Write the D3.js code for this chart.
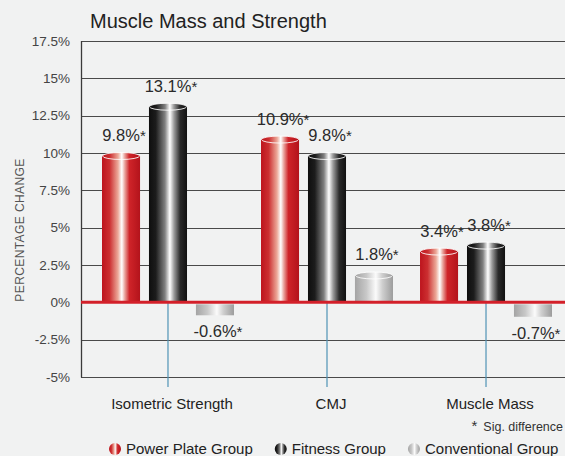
<!DOCTYPE html>
<html><head><meta charset="utf-8">
<script src="https://cdn.jsdelivr.net/npm/d3@7"></script>
<style>
body{margin:0;background:#f0f1f2;}
svg{display:block;font-family:"Liberation Sans",Arial,Helvetica,sans-serif;}
</style>
</head><body>
<svg id="c" width="565" height="456"></svg>
<script>
// ---- data ----
const categories = ["Isometric Strength", "CMJ", "Muscle Mass"];
const seriesNames = ["Power Plate Group", "Fitness Group", "Conventional Group"];
const powerPlate = [9.8, 10.9, 3.4];
const fitness = [13.1, 9.8, 3.8];
const conventional = [-0.6, 1.8, -0.7];
const yTicks = [-5, -2.5, 0, 2.5, 5, 7.5, 10, 12.5, 15, 17.5];
const title = "Muscle Mass and Strength";
const yTitle = "PERCENTAGE CHANGE";
const note = "Sig. difference";

const seriesValues = [powerPlate, fitness, conventional];
const rows = [];
categories.forEach((c, ci) => seriesNames.forEach((s, si) => rows.push({cat: c, series: s, si, value: seriesValues[si][ci]})));

const svg = d3.select("#c");
const W = 565, H = 456;
const left = 81, right = 565;

svg.append("rect").attr("width", W).attr("height", H).attr("fill", "#f1f2f2");

// gradients
const defs = svg.append("defs");
const grads = [
  {id: "g0", stops: [[0, "#bd141d"], [0.2, "#cc2f31"], [0.42, "#eca898"], [0.52, "#ffffff"], [0.6, "#e9a39c"], [0.72, "#cf2429"], [1, "#b3131b"]]},
  {id: "g1", stops: [[0, "#0e0e0e"], [0.18, "#1c1c1c"], [0.42, "#808080"], [0.55, "#ffffff"], [0.66, "#9a9a9a"], [0.82, "#2a2a2a"], [1, "#111111"]]},
  {id: "g2", stops: [[0, "#a4a4a4"], [0.3, "#c8c8c8"], [0.55, "#fbfbfb"], [0.72, "#cfcfcf"], [1, "#9c9c9c"]]}
];
grads.forEach(g => {
  const lg = defs.append("linearGradient").attr("id", g.id).attr("x1", 0).attr("x2", 1).attr("y1", 0).attr("y2", 0);
  g.stops.forEach(s => lg.append("stop").attr("offset", s[0]).attr("stop-color", s[1]));
});

// scales
const y = d3.scaleLinear().domain([-5, 17.5]).range([377, 41]);
const xGroup = d3.scaleBand().domain(categories).range([102, 552]).paddingInner(0.17).paddingOuter(0);
const xBar = d3.scaleBand().domain(seriesNames).range([0, xGroup.bandwidth()]).paddingInner(0.19).paddingOuter(0);

// title
svg.append("text").attr("x", 90).attr("y", 28).attr("font-size", 20).attr("fill", "#222").text(title);

// grid lines
svg.append("g").selectAll("line").data(yTicks.filter(t => t !== 0)).join("line")
  .attr("x1", left).attr("x2", right)
  .attr("y1", d => Math.round(y(d)) + 0.5).attr("y2", d => Math.round(y(d)) + 0.5)
  .attr("stroke", "#4a4a4a").attr("stroke-width", 1.2);

// left axis line
svg.append("line").attr("x1", left + 0.5).attr("x2", left + 0.5).attr("y1", y(17.5)).attr("y2", y(-5) + 0.5)
  .attr("stroke", "#3a3a3a").attr("stroke-width", 1.3);

// y tick labels
svg.append("g").selectAll("text").data(yTicks).join("text")
  .attr("x", 70).attr("y", d => y(d) + 4.5).attr("text-anchor", "end")
  .attr("font-size", 13.5).attr("fill", "#444").text(d => d + "%");

// y title
svg.append("text").attr("transform", `translate(24,${230}) rotate(-90)`)
  .attr("text-anchor", "middle").attr("font-size", 12).attr("fill", "#555")
  .attr("letter-spacing", 0.4).text(yTitle);

// category ticks (blue)
svg.append("g").selectAll("line").data(categories).join("line")
  .attr("x1", d => xGroup(d) + xGroup.bandwidth() / 2).attr("x2", d => xGroup(d) + xGroup.bandwidth() / 2)
  .attr("y1", y(0)).attr("y2", 387)
  .attr("stroke", "#4f93b5").attr("stroke-width", 1.2);

// category labels
svg.append("g").selectAll("text").data(categories).join("text")
  .attr("x", d => xGroup(d) + xGroup.bandwidth() / 2 + 4).attr("y", 409)
  .attr("text-anchor", "middle").attr("font-size", 15).attr("fill", "#222").text(d => d);

// bars
const bw = xBar.bandwidth();
const bars = svg.append("g");
rows.forEach(r => {
  const x0 = xGroup(r.cat) + xBar(r.series);
  const g = bars.append("g");
  if (r.value >= 0) {
    g.append("rect").attr("x", x0).attr("width", bw)
      .attr("y", y(r.value)).attr("height", y(0) - y(r.value))
      .attr("fill", `url(#g${r.si})`);
    g.append("ellipse").attr("cx", x0 + bw / 2).attr("cy", y(r.value)).attr("rx", bw / 2 - 0.5).attr("ry", 3.5)
      .attr("fill", `url(#g${r.si})`).attr("stroke", "#ffffff").attr("stroke-width", 1).attr("stroke-opacity", 0.85);
  } else {
    g.append("rect").attr("x", x0).attr("width", bw)
      .attr("y", y(0) + 2).attr("height", y(r.value) - y(0) + 2)
      .attr("fill", `url(#g${r.si})`);
  }
  const t = g.append("text").attr("x", x0 + bw / 2).attr("dx", 3)
    .attr("y", r.value >= 0 ? y(r.value) - 15 : y(r.value) + 26)
    .attr("text-anchor", "middle").attr("font-size", 16.5).attr("fill", "#2a2a2a");
  t.append("tspan").text(r.value + "%");
  t.append("tspan").attr("font-size", 15).text("*");
});

// zero line
svg.append("line").attr("x1", left).attr("x2", right).attr("y1", y(0)).attr("y2", y(0))
  .attr("stroke", "#d3202a").attr("stroke-width", 3);

// note
svg.append("text").attr("x", 563).attr("y", 431).attr("text-anchor", "end")
  .attr("font-size", 12.5).attr("fill", "#333")
  .call(t => { t.append("tspan").attr("font-size", 15).text("*"); t.append("tspan").attr("dx", 6).text(note); });

// legend
const legend = svg.append("g");
let lx = 109;
seriesNames.forEach((s, i) => {
  legend.append("circle").attr("cx", lx + 6).attr("cy", 449).attr("r", 6).attr("fill", `url(#g${i})`);
  const t = legend.append("text").attr("x", lx + 17).attr("y", 454).attr("font-size", 15).attr("fill", "#222").text(s);
  lx = lx + 17 + t.node().getComputedTextLength() + 22;
});
</script>
</body></html>
